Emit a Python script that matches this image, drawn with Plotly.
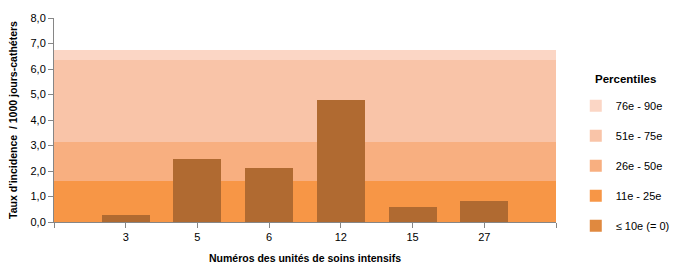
import plotly.graph_objects as go

units = ["3", "5", "6", "12", "15", "27"]
rates = [0.27, 2.48, 2.13, 4.80, 0.58, 0.81]

# percentile thresholds
p10 = 0.0
p25 = 1.62
p50 = 3.14
p75 = 6.34
p90 = 6.73

band_names = ["76e - 90e", "51e - 75e", "26e - 50e", "11e - 25e", "\u2264 10e (= 0)"]
band_low = [p75, p50, p25, p10, 0.0]
band_high = [p90, p75, p50, p25, p10]
band_colors = ["#FBD6C5", "#F9C4A8", "#F8AF80", "#F79646", "#E0893F"]

n = len(units)
xpos = list(range(1, n + 1))

FONT = "Liberation Sans"

fig = go.Figure()
for i, (nm, lo, hi, col) in enumerate(zip(band_names, band_low, band_high, band_colors)):
    fig.add_trace(go.Bar(
        x=[(n + 1) / 2], y=[hi - lo], base=[lo], width=[n + 1],
        name=nm, marker=dict(color=col, line=dict(width=0)),
        legendgroup=nm, legendrank=i + 1, hoverinfo="skip",
    ))

fig.add_trace(go.Bar(
    x=xpos, y=rates, width=0.67, showlegend=False,
    marker=dict(color="#B06A31", line=dict(width=0)), name="Taux",
))

fig.add_annotation(
    text="<b>Percentiles</b>", xref="paper", yref="paper",
    x=1.0737, y=0.70, xanchor="left", yanchor="middle",
    showarrow=False, font=dict(family=FONT, size=11.5, color="#000000"),
)

fig.update_layout(
    width=675, height=278,
    margin=dict(l=54, r=119, t=15, b=56),
    barmode="overlay",
    bargap=0,
    plot_bgcolor="white", paper_bgcolor="white",
    separators=", ",
    font=dict(family=FONT, size=11, color="#000000"),
    legend=dict(
        xref="container", yref="container",
        x=0.853, xanchor="left", y=0.672, yanchor="top",
        tracegroupgap=11, font=dict(family=FONT, size=11),
        itemwidth=30, traceorder="grouped",
        maxheight=1,
    ),
    xaxis=dict(
        range=[0, n + 1],
        tickvals=[0] + xpos + [n + 1],
        ticktext=[""] + units + [""],
        ticks="outside", ticklen=5, tickcolor="#868686",
        showline=True, linecolor="#868686", linewidth=1,
        showgrid=False, zeroline=False,
        tickfont=dict(size=11),
        title=dict(text="<b>Numéros des unités de soins intensifs</b>", font=dict(size=10.5), standoff=12),
    ),
    yaxis=dict(
        range=[0, 8], dtick=1, tickformat=".1f",
        ticks="outside", ticklen=5, tickcolor="#868686",
        showline=True, linecolor="#868686", linewidth=1,
        showgrid=False, zeroline=False,
        tickfont=dict(size=11),
        title=dict(text="<b>Taux d'incidence  / 1000 jours-cathéters</b>", font=dict(size=10.5), standoff=10),
    ),
)

fig.write_html("out.html")
